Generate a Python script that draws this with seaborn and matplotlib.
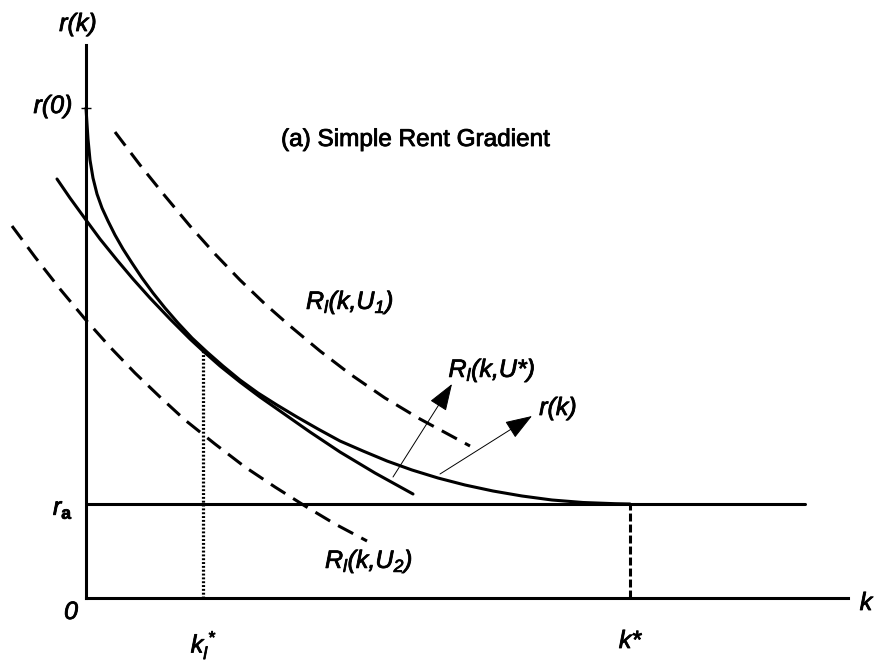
import matplotlib
matplotlib.use("Agg")
import matplotlib.pyplot as plt
import matplotlib.patheffects as pe
import seaborn as sns

# ---- data (k, r); units roughly pixel-scale ----
# equilibrium rent gradient r(k)
rk_k = [0, 1, 2, 4, 7, 11, 16, 22, 29, 37, 46, 56, 67, 79, 92, 106, 121, 137, 154, 172,
        191, 211, 232, 254, 277, 301, 326, 352, 379, 407, 436, 466, 497, 529, 544]
rk_r = [490, 474, 459, 438, 420, 404, 390, 377, 363, 349, 335, 320, 305, 290, 275, 260, 246,
        232, 218, 205, 193, 181, 169, 157, 147, 137, 128, 120, 113, 107, 102, 98, 95.5, 94.3, 94]
# bid-rent curve R_l(k, U*) (tangent to r(k) at k_l*)
ustar_k = [-29, -16, 0, 14, 31, 47, 64, 84, 104, 117, 134, 154, 174, 194, 224, 254, 289, 327]
ustar_r = [419, 400, 378, 359, 338, 319, 300, 279, 259, 247, 232, 216, 201, 187, 166, 146, 125, 104]
# bid-rent curve R_l(k, U1) (dashed, higher utility)
u1_k = [29, 54, 79, 104, 129, 154, 179, 204, 234, 264, 299, 334, 384]
u1_r = [466, 433, 402, 372, 344, 318, 294, 272, 247, 224, 200, 179, 152]
# bid-rent curve R_l(k, U2) (dashed, lower utility)
u2_k = [-74, -51, -26, -1, 24, 49, 74, 99, 129, 159, 189, 219, 249, 281]
u2_r = [372, 341, 309, 279, 251, 225, 201, 178, 154, 131, 111, 92, 74, 57]
# key values
r0 = 490
r_a = 94
k_l_star = 117
r_at_k_l_star = 248
k_star = 544
k_max_axis = 762
r_max_axis = 553
k_end_ra = 719
# label arrows (tail -> tip)
arrow_tail_k = [307, 354]
arrow_tail_r = [121, 124]
arrow_tip_k = [366, 446]
arrow_tip_r = [214, 182]

sns.set_theme(style="white")
plt.rcParams["font.family"] = ["Liberation Sans", "DejaVu Sans"]
plt.rcParams["mathtext.fontset"] = "custom"
plt.rcParams["mathtext.it"] = "Liberation Sans:italic"
plt.rcParams["mathtext.rm"] = "Liberation Sans:italic"
plt.rcParams["mathtext.bf"] = "Liberation Sans:bold"
plt.rcParams["mathtext.default"] = "it"

fig = plt.figure(figsize=(8.76, 6.62), dpi=100)
ax = fig.add_axes([0, 0, 1, 1])
ax.set_xlim(-86, 790)
ax.set_ylim(-64, 598)

LW = 2.2
common = dict(ax=ax, color="black", sort=False, estimator=None, legend=False)

sns.lineplot(x=rk_k, y=rk_r, linewidth=LW, solid_joinstyle="round", **common)
sns.lineplot(x=ustar_k, y=ustar_r, linewidth=LW, solid_joinstyle="round", **common)
sns.lineplot(x=u1_k, y=u1_r, linewidth=LW, linestyle=(0, (5.6, 3.0)), **common)
sns.lineplot(x=u2_k, y=u2_r, linewidth=LW, linestyle=(0, (5.6, 3.0)), **common)
# r_a horizontal line
sns.lineplot(x=[0, k_end_ra], y=[r_a, r_a], linewidth=LW, **common)
# dotted line at k_l*
sns.lineplot(x=[k_l_star, k_l_star], y=[0, r_at_k_l_star], linewidth=2.3,
             linestyle=(0, (0.6, 0.6)), **common)
# dashed line at k*
sns.lineplot(x=[k_star, k_star], y=[0, r_a], linewidth=LW,
             linestyle=(0, (2.6, 1.0)), **common)

# axes as spines
for s in ["top", "right"]:
    ax.spines[s].set_visible(False)
ax.spines["left"].set_position(("data", 0))
ax.spines["bottom"].set_position(("data", 0))
ax.spines["left"].set_bounds(0, r_max_axis)
ax.spines["bottom"].set_bounds(0, k_max_axis)
for s in ["left", "bottom"]:
    ax.spines[s].set_color("black")
    ax.spines[s].set_linewidth(LW)
ax.set_facecolor("white")
ax.set_xticks([])
ax.set_yticks([r0])
ax.set_yticklabels([""])
ax.tick_params(axis="y", left=True, direction="inout", length=7, width=1.0, color="black")

# arrows
for tk, tr, hk, hr in zip(arrow_tail_k, arrow_tail_r, arrow_tip_k, arrow_tip_r):
    ax.annotate("", xy=(hk, hr), xytext=(tk, tr),
                arrowprops=dict(arrowstyle="-|>,head_length=0.85,head_width=0.3",
                                mutation_scale=20, lw=0.7, color="black",
                                shrinkA=0, shrinkB=0))

def P(x, y):
    return x - 86, 598 - y

thick = [pe.withStroke(linewidth=0.6, foreground="black")]
FS = 18
tk = dict(ha="center", va="center", fontsize=FS, style="italic", color="black",
          path_effects=thick)
ax.text(*P(78, 24), "r(k)", **tk)
ax.text(*P(53, 106), "r(0)", **tk)
ax.text(*P(415, 140), "(a) Simple Rent Gradient", ha="center", va="center",
        fontsize=17.5, color="black", path_effects=thick)
ax.text(*P(350, 302), r"$R_l$(k,U$_1$)", **tk)
ax.text(*P(492, 370), r"$R_l$(k,U*)", **tk)
ax.text(*P(558, 408), "r(k)", **tk)
ax.text(*P(369, 561), r"$R_l$(k,U$_2$)", **tk)
ax.text(*P(63, 509), r"$r_\mathbf{a}$", **tk)
ax.text(*P(71, 612), "0", **tk)
ax.text(*P(866, 603), "k", **tk)
ax.text(*P(204, 645), r"$k_l^*$", **tk)
ax.text(*P(630, 641), "k*", **tk)

fig.savefig("out.png", dpi=100, facecolor="white")
